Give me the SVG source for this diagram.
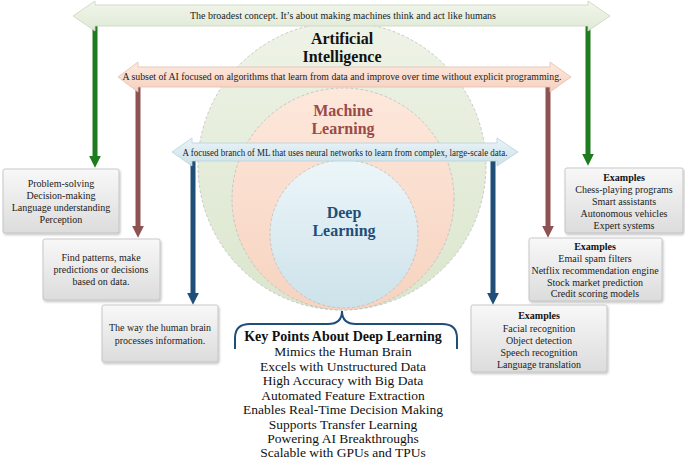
<svg xmlns="http://www.w3.org/2000/svg" width="685" height="459" viewBox="0 0 685 459">
<style>
text{font-family:"Liberation Serif","Times New Roman",serif;text-anchor:middle;}
.bt{font-size:10px;fill:#222;}
.bb{font-size:10px;fill:#111;font-weight:bold;}
.bn{font-size:10px;fill:#222;}
.box{stroke:#bcbcbc;stroke-width:0.8;fill:url(#gBox);filter:url(#sh);}
.circ{stroke:#bdbdbd;stroke-width:0.8;stroke-dasharray:3 2;}
.kp{font-size:13.5px;fill:#111;}
</style>
<defs>
<linearGradient id="gBox" x1="0" y1="0" x2="0" y2="1"><stop offset="0" stop-color="#f8f8f8"/><stop offset="1" stop-color="#dcdcdc"/></linearGradient>
<linearGradient id="gAI" x1="0" y1="0" x2="0" y2="1"><stop offset="0" stop-color="#eef3e7"/><stop offset="1" stop-color="#dbe6cd"/></linearGradient>
<linearGradient id="gML" x1="0" y1="0" x2="0" y2="1"><stop offset="0" stop-color="#fde8dc"/><stop offset="1" stop-color="#f7d3c0"/></linearGradient>
<linearGradient id="gDL" x1="0" y1="0" x2="0" y2="1"><stop offset="0" stop-color="#ecf6f9"/><stop offset="1" stop-color="#cde2ea"/></linearGradient>
<linearGradient id="gBG" x1="0" y1="0" x2="0" y2="1"><stop offset="0" stop-color="#f2f6ec"/><stop offset="1" stop-color="#dfe9d5"/></linearGradient>
<linearGradient id="gBP" x1="0" y1="0" x2="0" y2="1"><stop offset="0" stop-color="#fdeae0"/><stop offset="1" stop-color="#f6d0bd"/></linearGradient>
<linearGradient id="gBB" x1="0" y1="0" x2="0" y2="1"><stop offset="0" stop-color="#eaf4f8"/><stop offset="1" stop-color="#cce1ea"/></linearGradient>
<filter id="sh" x="-10%" y="-10%" width="125%" height="130%"><feDropShadow dx="1" dy="1.5" stdDeviation="1.2" flood-color="#000" flood-opacity="0.25"/></filter>
<marker id="aG" viewBox="0 0 10 10" refX="1" refY="5" markerWidth="12" markerHeight="12" markerUnits="userSpaceOnUse" orient="auto"><path d="M0,0 L10,5 L0,10 z" fill="#1e7b1e"/></marker>
<marker id="aR" viewBox="0 0 10 10" refX="1" refY="5" markerWidth="12" markerHeight="12" markerUnits="userSpaceOnUse" orient="auto"><path d="M0,0 L10,5 L0,10 z" fill="#8e5252"/></marker>
<marker id="aB" viewBox="0 0 10 10" refX="1" refY="5" markerWidth="12" markerHeight="12" markerUnits="userSpaceOnUse" orient="auto"><path d="M0,0 L10,5 L0,10 z" fill="#1f4e79"/></marker>
</defs>
<rect width="685" height="459" fill="#fff"/>

<g id="ai-circle"><circle class="circ" cx="342" cy="166" r="144" fill="url(#gAI)"/>
<text x="342" y="44" style="font-size:16px;font-weight:bold;fill:#111">Artificial</text>
<text x="342" y="62" style="font-size:16px;font-weight:bold;fill:#111">Intelligence</text></g>
<g id="ml-circle"><circle class="circ" cx="343" cy="199" r="111" fill="url(#gML)"/>
<text x="343" y="116" style="font-size:16px;font-weight:bold;fill:#9a4b48">Machine</text>
<text x="343" y="134" style="font-size:16px;font-weight:bold;fill:#9a4b48">Learning</text></g>
<g id="dl-circle"><circle class="circ" cx="344" cy="234" r="74" fill="url(#gDL)"/>
<text x="344" y="218" style="font-size:16px;font-weight:bold;fill:#1f4e79">Deep</text>
<text x="344" y="236" style="font-size:16px;font-weight:bold;fill:#1f4e79">Learning</text></g>

<g id="connectors" fill="none">
<line x1="95" y1="26" x2="95" y2="157" stroke="#1e7b1e" stroke-width="5" marker-end="url(#aG)"/>
<line x1="588" y1="26" x2="588" y2="155" stroke="#1e7b1e" stroke-width="5" marker-end="url(#aG)"/>
<line x1="138" y1="86" x2="138" y2="227" stroke="#8e5252" stroke-width="5" marker-end="url(#aR)"/>
<line x1="548" y1="86" x2="548" y2="227" stroke="#8e5252" stroke-width="5" marker-end="url(#aR)"/>
<line x1="193" y1="161" x2="193" y2="294" stroke="#1f4e79" stroke-width="5" marker-end="url(#aB)"/>
<line x1="493" y1="161" x2="493" y2="294" stroke="#1f4e79" stroke-width="5" marker-end="url(#aB)"/>
<path d="M235,349 L235,338 Q235,324 250,324 L328,324 Q342,324 342,311 Q342,324 356,324 L442,324 Q457,324 457,338 L457,349" stroke="#1f4e79" stroke-width="2"/>
</g>

<g id="banner-ai"><path d="M73,16 L95,1 L95,5 L588,5 L588,1 L610,16 L588,31 L588,26 L95,26 L95,31 Z" fill="url(#gBG)" stroke="#c9d5bd" stroke-width="0.8"/>
<text class="bn" x="343" y="19" textLength="306" lengthAdjust="spacingAndGlyphs">The broadest concept. It’s about making machines think and act like humans</text></g>
<g id="banner-ml"><path d="M118,77 L138,62 L138,67 L550,67 L550,62 L571,77 L550,92 L550,87 L138,87 L138,92 Z" fill="url(#gBP)" stroke="#e2bfae" stroke-width="0.8"/>
<text class="bn" x="342" y="80" textLength="439" lengthAdjust="spacingAndGlyphs">A subset of AI focused on algorithms that learn from data and improve over time without explicit programming.</text></g>
<g id="banner-dl"><path d="M172,152 L192,138 L192,143 L497,143 L497,138 L518,152 L497,166 L497,161 L192,161 L192,166 Z" fill="url(#gBB)" stroke="#b9d0da" stroke-width="0.8"/>
<text class="bn" x="345" y="155.5" textLength="325" lengthAdjust="spacingAndGlyphs">A focused branch of ML that uses neural networks to learn from complex, large-scale data.</text></g>

<g id="box-ai"><rect class="box" x="3" y="169" width="116" height="64" rx="2"/>
<text class="bt" x="61" y="187">Problem-solving</text>
<text class="bt" x="61" y="199">Decision-making</text>
<text class="bt" x="61" y="211">Language understanding</text>
<text class="bt" x="61" y="223">Perception</text></g>
<g id="box-ml"><rect class="box" x="43" y="239" width="117" height="61" rx="2"/>
<text class="bt" x="101" y="261">Find patterns, make</text>
<text class="bt" x="101" y="273">predictions or decisions</text>
<text class="bt" x="101" y="285">based on data.</text></g>
<g id="box-dl"><rect class="box" x="102" y="305" width="116" height="57" rx="2"/>
<text class="bt" x="160" y="331">The way the human brain</text>
<text class="bt" x="160" y="344">processes information.</text></g>

<g id="ex-ai"><rect class="box" x="565" y="168" width="118" height="65" rx="2"/>
<text class="bb" x="624" y="181">Examples</text>
<text class="bt" x="624" y="193">Chess-playing programs</text>
<text class="bt" x="624" y="205">Smart assistants</text>
<text class="bt" x="624" y="217">Autonomous vehicles</text>
<text class="bt" x="624" y="229">Expert systems</text></g>
<g id="ex-ml"><rect class="box" x="529" y="238" width="133" height="63" rx="2"/>
<text class="bb" x="595" y="250">Examples</text>
<text class="bt" x="595" y="262">Email spam filters</text>
<text class="bt" x="595" y="274">Netflix recommendation engine</text>
<text class="bt" x="595" y="286">Stock market prediction</text>
<text class="bt" x="595" y="297">Credit scoring models</text></g>
<g id="ex-dl"><rect class="box" x="471" y="305" width="136" height="67" rx="2"/>
<text class="bb" x="539" y="319">Examples</text>
<text class="bt" x="539" y="332">Facial recognition</text>
<text class="bt" x="539" y="344">Object detection</text>
<text class="bt" x="539" y="356">Speech recognition</text>
<text class="bt" x="539" y="368">Language translation</text></g>

<g id="key-points">
<text x="343" y="341" style="font-size:14px;font-weight:bold;fill:#111">Key Points About Deep Learning</text>
<text class="kp" x="343" y="356">Mimics the Human Brain</text>
<text class="kp" x="343" y="370.5">Excels with Unstructured Data</text>
<text class="kp" x="343" y="385">High Accuracy with Big Data</text>
<text class="kp" x="343" y="399.5">Automated Feature Extraction</text>
<text class="kp" x="343" y="414">Enables Real-Time Decision Making</text>
<text class="kp" x="343" y="428.5">Supports Transfer Learning</text>
<text class="kp" x="343" y="443">Powering AI Breakthroughs</text>
<text class="kp" x="343" y="457">Scalable with GPUs and TPUs</text>
</g>
</svg>
